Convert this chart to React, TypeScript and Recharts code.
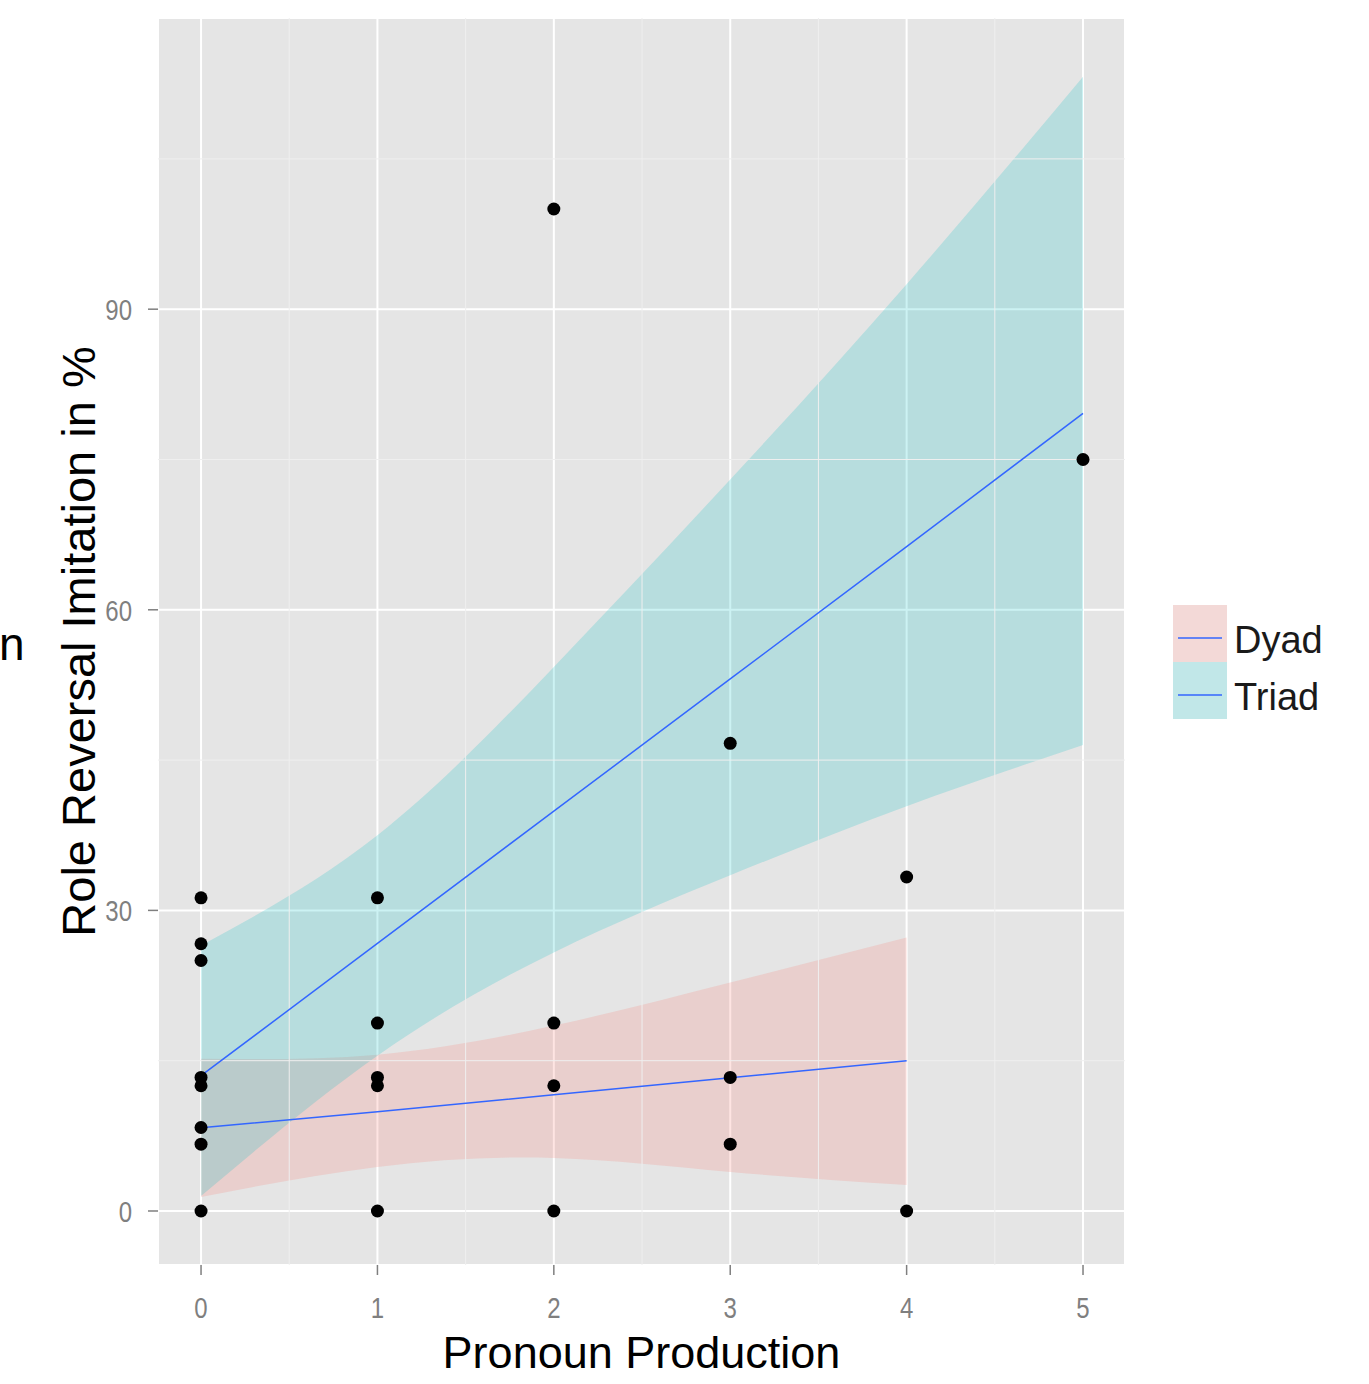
import React from 'react';
import {
  ComposedChart,
  Area,
  Line,
  Scatter,
  XAxis,
  YAxis,
  CartesianGrid,
  ReferenceLine,
} from 'recharts';

// fitted lines and confidence bands, read at each x
const fitX = [0, 1, 2, 3, 4, 5];
const dyadLow = [1.4, 4.4, 5.3, 3.9, 2.6, null];
const dyadHigh = [15.2, 15.6, 18.5, 22.8, 27.3, null];
const dyadFit = [8.3, 9.9, 11.6, 13.3, 15.0, null];
const triadLow = [1.5, 15.5, 25.8, 33.5, 40.4, 46.5];
const triadHigh = [26.5, 37.5, 54.3, 73.0, 92.5, 113.2];
const triadFit = [13.5, 26.7, 39.9, 53.1, 66.3, 79.6];

// observed points
const pointX = [0, 0, 0, 0, 0, 0, 0, 0, 1, 1, 1, 1, 1, 2, 2, 2, 2, 3, 3, 3, 4, 4, 5];
const pointY = [
  31.25, 26.67, 25, 13.33, 12.5, 8.33, 6.67, 0,
  31.25, 18.75, 13.33, 12.5, 0,
  100, 18.75, 12.5, 0,
  46.67, 13.33, 6.67,
  33.33, 0,
  75,
];

const xTicks = [0, 1, 2, 3, 4, 5];
const yTicks = [0, 30, 60, 90];
const xMinor = [0.5, 1.5, 2.5, 3.5, 4.5];
const yMinor = [15, 45, 75, 105];
const legendLabels = ['Dyad', 'Triad'];

const DYAD = '#F8766D';
const TRIAD = '#00BFC4';
const FIT = '#3366FF';
const FONT = '"Liberation Sans", Arial, sans-serif';

const table = fitX.map((x, i) => ({
  x,
  dyadBand: dyadLow[i] == null ? null : [dyadLow[i], dyadHigh[i]],
  triadBand: [triadLow[i], triadHigh[i]],
  dyadFit: dyadFit[i],
  triadFit: triadFit[i],
}));

const points = pointX.map((x, i) => ({ x, y: pointY[i] }));

const XTick = ({ x, y, payload }: any) => (
  <g transform={`translate(${x},${y})`}>
    <text
      x={0}
      y={0}
      dy={41}
      textAnchor="middle"
      fill="#7F7F7F"
      fontSize={30}
      fontFamily={FONT}
      transform="scale(0.8,1)"
    >
      {payload.value}
    </text>
  </g>
);

const YTick = ({ x, y, payload }: any) => (
  <g transform={`translate(${x - 14},${y})`}>
    <text
      x={0}
      y={0}
      dy={11}
      textAnchor="end"
      fill="#7F7F7F"
      fontSize={30}
      fontFamily={FONT}
      transform="scale(0.8,1)"
    >
      {payload.value}
    </text>
  </g>
);

const XTitle = ({ viewBox }: any) => (
  <text
    x={viewBox.x + viewBox.width / 2}
    y={viewBox.y + 103}
    textAnchor="middle"
    fontSize={45}
    fontFamily={FONT}
    fill="#000"
  >
    Pronoun Production
  </text>
);

const YTitle = ({ viewBox }: any) => {
  const cx = viewBox.x + 78;
  const cy = viewBox.y + viewBox.height / 2;
  return (
    <text
      x={cx}
      y={cy}
      transform={`rotate(-90,${cx},${cy})`}
      textAnchor="middle"
      dominantBaseline="central"
      fontSize={47}
      fontFamily={FONT}
      fill="#000"
    >
      Role Reversal Imitation in %
    </text>
  );
};

const Dot = ({ cx, cy }: any) => <circle cx={cx} cy={cy} r={6.5} fill="#000" />;

const LegendBox = () => (
  <svg
    width={200}
    height={130}
    style={{ position: 'absolute', left: 1170, top: 600 }}
  >
    {[DYAD, TRIAD].map((c, i) => (
      <g key={c} transform={`translate(3,${5 + i * 57})`}>
        <rect width={54} height={57} fill="#F2F2F2" />
        <rect width={54} height={57} fill={c} fillOpacity={0.2} />
        <line x1={5} x2={49} y1={33} y2={33} stroke={FIT} strokeWidth={1.5} />
        <text x={61} y={48} fontSize={38} fontFamily={FONT} fill="#1a1a1a">
          {legendLabels[i]}
        </text>
      </g>
    ))}
  </svg>
);

export default function App() {
  return (
    <div style={{ position: 'absolute', left: 0, top: 0, width: 1369, height: 1384, background: '#fff' }}>
      <svg width={60} height={700} style={{ position: 'absolute', left: 0, top: 0 }}>
        <text x={-1} y={660} fontSize={46} fontFamily={FONT} fill="#000">
          n
        </text>
      </svg>
      <ComposedChart
        width={1369}
        height={1384}
        data={table}
        margin={{ top: 18, right: 244, bottom: 0, left: 0 }}
      >
        <CartesianGrid stroke="#FFFFFF" strokeWidth={2} fill="#E5E5E5" fillOpacity={1} />
        {xMinor.map((v) => (
          <ReferenceLine key={`mx${v}`} x={v} stroke="#EFEFEF" strokeWidth={1} />
        ))}
        {yMinor.map((v) => (
          <ReferenceLine key={`my${v}`} y={v} stroke="#EFEFEF" strokeWidth={1} />
        ))}
        <XAxis
          dataKey="x"
          type="number"
          domain={[-0.244, 5.238]}
          ticks={xTicks}
          allowDataOverflow
          height={119}
          axisLine={false}
          tickSize={10}
          tickLine={{ stroke: '#7F7F7F', strokeWidth: 1.5 }}
          tick={<XTick />}
          label={<XTitle />}
        />
        <YAxis
          type="number"
          domain={[-5.39, 119.06]}
          ticks={yTicks}
          allowDataOverflow
          width={158}
          axisLine={false}
          tickSize={10}
          tickLine={{ stroke: '#7F7F7F', strokeWidth: 1.5 }}
          tick={<YTick />}
          label={<YTitle />}
        />
        <Scatter data={points} dataKey="y" shape={<Dot />} isAnimationActive={false} />
        <Area
          type="natural"
          dataKey="dyadBand"
          stroke="none"
          fill={DYAD}
          fillOpacity={0.2}
          isAnimationActive={false}
        />
        <Area
          type="natural"
          dataKey="triadBand"
          stroke="none"
          fill={TRIAD}
          fillOpacity={0.2}
          isAnimationActive={false}
        />
        <Line
          type="linear"
          dataKey="dyadFit"
          stroke={FIT}
          strokeWidth={1.5}
          dot={false}
          isAnimationActive={false}
        />
        <Line
          type="linear"
          dataKey="triadFit"
          stroke={FIT}
          strokeWidth={1.5}
          dot={false}
          isAnimationActive={false}
        />
      </ComposedChart>
      <LegendBox />
    </div>
  );
}
